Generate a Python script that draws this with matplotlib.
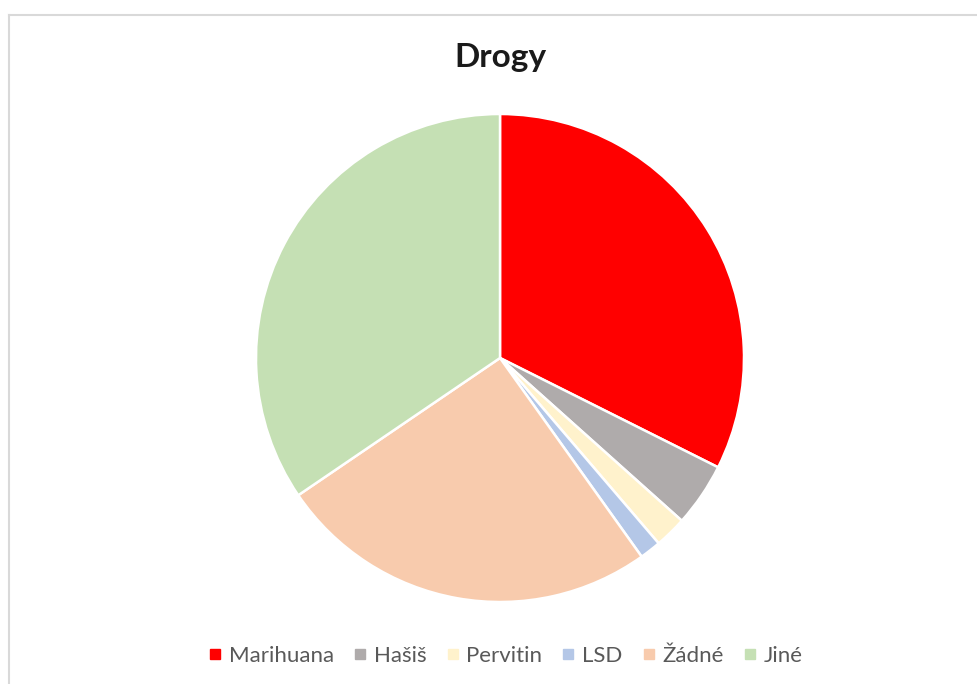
import matplotlib.pyplot as plt
from matplotlib.lines import Line2D

# počty odpovědí
drogy = ['Marihuana', 'Hašiš', 'Pervitin', 'LSD', 'Žádné', 'Jiné']
pocty = [46, 6, 3, 2, 36, 49]
barvy = ['#FF0000', '#AFABAB', '#FFF2CC', '#B4C7E7', '#F8CBAD', '#C5E0B4']

W, H = 978, 684
fig = plt.figure(figsize=(W / 100, H / 100), dpi=100)
fig.patch.set_facecolor('white')

# rámeček grafu
fig.add_artist(Line2D([9 / W, 9 / W], [0, 1 - 15 / H], color='#D9D9D9', lw=1.5))
fig.add_artist(Line2D([9 / W, 1], [1 - 15 / H, 1 - 15 / H], color='#D9D9D9', lw=1.5))

# koláč: střed (500, 358), poloměr 244 px
r = 244
ax = fig.add_axes([(500 - r) / W, (H - 358 - r) / H, 2 * r / W, 2 * r / H])
ax.pie(pocty, colors=barvy, startangle=90, counterclock=False,
       wedgeprops=dict(edgecolor='white', linewidth=1.8))
ax.set_xlim(-1, 1)
ax.set_ylim(-1, 1)
ax.set_aspect('equal')
ax.axis('off')

fig.text(500 / W, 1 - 58 / H, 'Drogy', ha='center', va='center',
         fontsize=24, fontweight='bold', family='Lato', color='#1A1A1A')

handles = [Line2D([], [], marker='s', ls='', markersize=6.5, color=c) for c in barvy]
fig.legend(handles, drogy, loc='center', bbox_to_anchor=(506 / W, 1 - 656 / H),
           ncol=6, frameon=False, handlelength=0.5, handletextpad=0.36,
           columnspacing=0.93, prop=dict(family='Lato', size=16), labelcolor='#595959')

fig.savefig('out.png', dpi=100)
